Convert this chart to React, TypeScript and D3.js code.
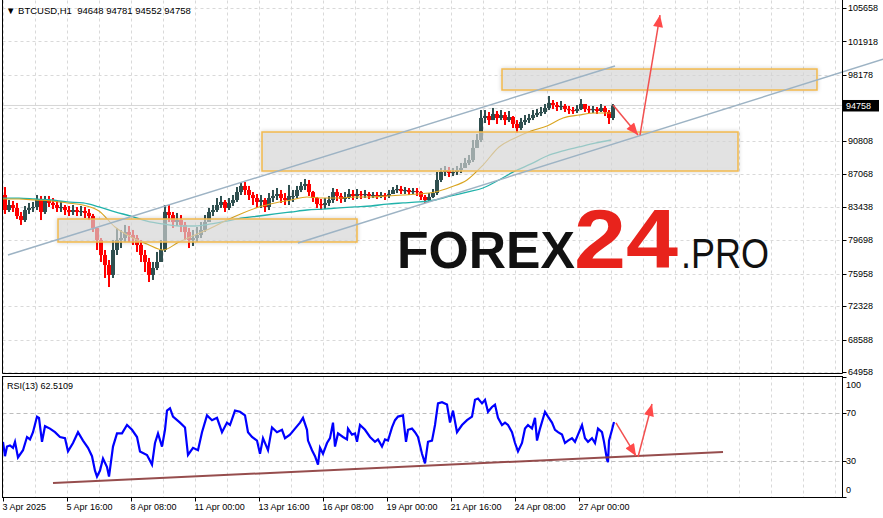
import React from "react";
import * as d3 from "d3";

const W = 883;
const H = 518;
const FONT = "'Liberation Sans', Arial, sans-serif";

// ---- Data (BTCUSD, aggregated into 4-hour bars, hours from 3 Apr 2025 00:00) ----
const BAR_HOURS = 4;
const firstOpen = 84750;
const barCloses = [
  83070, 83630, 83300, 82400, 81950, 83070, 83300, 83410, 84190, 82850,
  84190, 83860, 83630, 83300, 83410, 83070, 82850, 83070, 82850, 82960,
  82740, 82400, 81060, 79720, 78040, 76920, 75810, 78600, 79720, 79940,
  80610, 80280, 79940, 79160, 78040, 77260, 75810, 76590, 77260, 78600,
  82850, 82510, 81730, 81950, 81400, 80610, 79720, 79940, 80280, 80840,
  81730, 82850, 83070, 83630, 83970, 83300, 83860, 84190, 85080, 85760,
  85310, 84750, 84410, 83970, 84190, 83410, 84410, 84640, 84860, 84410,
  84190, 84640, 84640, 85310, 85760, 85980, 85080, 84410, 83740, 83630,
  83860, 84190, 85080, 84640, 84300, 84530, 84860, 84640, 84860, 84750,
  84860, 84640, 84750, 84640, 84750, 84640, 84860, 85310, 85420, 85200,
  85310, 85080, 85200, 85080, 84530, 84190, 84530, 84970, 86430, 87320,
  87540, 87210, 87320, 87540, 87770, 88330, 88660, 90010, 90900, 93360,
  93580, 93130, 93810, 93360, 93690, 93130, 93470, 92690, 92240, 92910,
  93130, 93360, 93690, 93920, 94030, 94480, 95040, 94810, 94590, 94700,
  94360, 94250, 94140, 94360, 94920, 94360, 94250, 94360, 94140, 94480,
  94030, 93360, 94758,
];
const barHighs = [
  85640, 84190, 84080, 83860, 82850, 83520, 83860, 83970, 84750, 84640,
  84640, 84640, 84410, 84190, 83970, 83630, 83520, 83630, 83410, 83520,
  83410, 83180, 82630, 81060, 79940, 78600, 77480, 79720, 81060, 80840,
  81400, 81280, 80840, 80280, 79720, 78600, 77710, 77260, 78380, 79720,
  83630, 83630, 82850, 82740, 82510, 81730, 81060, 80840, 81170, 81730,
  82510, 83300, 83630, 84410, 84640, 84190, 84410, 84750, 85640, 86200,
  86200, 85760, 85080, 84860, 84750, 84410, 84970, 85310, 85530, 85310,
  84970, 85870, 85310, 85760, 86200, 86540, 86430, 85200, 84530, 84300,
  84410, 84640, 85530, 85420, 84970, 85080, 85420, 85310, 85420, 85200,
  85310, 85080, 85080, 85080, 85080, 84970, 85310, 85640, 85870, 85760,
  85640, 85530, 85530, 85530, 85200, 84750, 84970, 85420, 87320, 87770,
  87990, 87880, 87770, 87990, 88330, 88890, 89220, 90900, 91570, 94250,
  94250, 94030, 94480, 94140, 94250, 94030, 94140, 93580, 93130, 93360,
  93690, 93810, 94250, 94360, 94590, 94920, 95820, 95370, 95150, 95260,
  94920, 94700, 94590, 94810, 95480, 94920, 94700, 94700, 94590, 94920,
  94700, 94250, 94920,
];
const barLows = [
  82630, 82850, 82850, 82070, 81400, 81730, 82630, 82850, 83070, 81950,
  82630, 83410, 83180, 82850, 82850, 82510, 82400, 82510, 82400, 82400,
  82180, 81950, 80610, 78600, 77260, 75470, 74460, 75470, 78040, 78820,
  79490, 79490, 79160, 78380, 77260, 76140, 75020, 75250, 76360, 77260,
  78380, 81730, 81060, 81280, 80610, 79720, 78820, 79050, 79490, 79940,
  80610, 81730, 82400, 82850, 83300, 82850, 83070, 83520, 83970, 84750,
  84750, 84190, 83630, 83300, 83300, 82850, 83070, 83970, 84190, 83860,
  83630, 83630, 83970, 84410, 85080, 85310, 84640, 83970, 83300, 83070,
  83180, 83520, 83860, 84080, 83860, 83970, 84300, 84190, 84300, 84300,
  84410, 84300, 84410, 84300, 84410, 84190, 84410, 84860, 84970, 84860,
  84860, 84750, 84860, 84640, 84190, 83860, 83970, 84410, 84750, 86200,
  86870, 86760, 86870, 86990, 87210, 87770, 88100, 88440, 90010, 90670,
  92800, 92580, 93130, 92690, 93130, 92580, 92910, 92240, 91680, 92020,
  92580, 92800, 93130, 93470, 93580, 93810, 94250, 94360, 94140, 94250,
  94030, 93810, 93810, 93920, 94250, 94030, 93920, 93920, 93810, 94030,
  93580, 92690, 93130,
];

// Moving averages sampled every 16 hours
const MA_STEP = 16;
const maFast = [
  84300, 84300, 84190, 84080, 83860, 83630, 82960, 81170, 80050, 79270,
  78600, 79490, 80280, 81060, 81950, 82740, 83410, 83860, 84190, 84530,
  84410, 84410, 84530, 84530, 84640, 84750, 84860, 85080, 85640, 86430,
  88100, 90120, 91120, 91900, 92460, 93360, 93690, 93920, 93920,
];
const maSlow = [
  84410, 84410, 84300, 84190, 83970, 83860, 83410, 82850, 82400, 81840,
  81510, 81280, 81280, 81510, 81840, 82180, 82400, 82630, 82850, 83070,
  83180, 83300, 83410, 83520, 83740, 83860, 83970, 84190, 84640, 85080,
  85530, 86430, 87430, 88220, 89110, 89670, 90120, 90560, 90900,
];

// RSI(13): [hour, value]
const rsiPoints: [number, number][] = [
  [0, 46], [2, 34], [4, 42], [7, 43], [10, 41], [12, 46], [15, 33], [20, 39], [24, 50], [27, 48],
  [30, 54], [34, 67], [36, 66], [39, 46], [42, 59], [47, 57], [52, 54], [57, 50], [62, 49], [65, 38],
  [70, 45], [75, 54], [80, 47], [85, 41], [89, 34], [92, 22], [94, 17], [97, 22], [100, 32], [104, 25],
  [106, 17], [110, 42], [114, 53], [119, 53], [124, 60], [129, 56], [134, 50], [137, 38], [144, 35], [149, 27],
  [152, 45], [155, 53], [159, 42], [162, 56], [164, 72], [167, 74], [170, 67], [177, 62], [182, 58], [185, 35],
  [190, 41], [195, 39], [199, 54], [204, 68], [209, 64], [214, 66], [219, 54], [224, 62], [227, 60], [232, 72],
  [237, 71], [242, 68], [245, 54], [249, 50], [254, 47], [257, 36], [260, 49], [265, 39], [269, 58], [274, 54],
  [279, 56], [282, 49], [287, 52], [292, 57], [297, 62], [300, 66], [304, 56], [305, 47], [309, 39], [312, 34],
  [315, 27], [317, 41], [320, 36], [324, 45], [327, 49], [330, 62], [332, 42], [335, 53], [340, 50], [344, 48],
  [345, 57], [349, 52], [352, 53], [354, 46], [357, 60], [362, 56], [367, 50], [372, 46], [375, 48], [379, 42],
  [382, 48], [385, 47], [389, 58], [392, 64], [395, 67], [400, 68], [403, 46], [405, 56], [409, 57], [412, 54],
  [415, 50], [419, 36], [422, 28], [425, 46], [429, 47], [432, 60], [435, 78], [439, 79], [444, 77], [447, 62],
  [450, 72], [454, 54], [459, 60], [464, 64], [469, 67], [472, 81], [475, 82], [479, 78], [482, 81], [485, 71],
  [489, 75], [492, 77], [495, 66], [499, 60], [502, 62], [505, 60], [509, 54], [512, 45], [515, 38], [519, 45],
  [522, 57], [525, 60], [529, 57], [532, 66], [534, 47], [537, 57], [542, 71], [545, 67], [549, 62], [552, 56],
  [555, 54], [559, 52], [562, 45], [565, 47], [569, 49], [572, 46], [575, 52], [579, 60], [582, 49], [585, 46],
  [589, 49], [592, 45], [595, 57], [599, 54], [601, 46], [604, 31], [605, 29], [606, 47], [609, 56], [611, 62.51],
];

const priceTicks = [105658, 101918, 98178, 94438, 90808, 87068, 83438, 79698, 75958, 72328, 68588, 64958];
const rsiTicks = [100, 70, 30, 0];
const timeTickHours = [0, 64, 128, 192, 256, 320, 384, 448, 512, 576];
const timeTickLabels = [
  "3 Apr 2025", "5 Apr 16:00", "8 Apr 08:00", "11 Apr 00:00", "13 Apr 16:00",
  "16 Apr 08:00", "19 Apr 00:00", "21 Apr 16:00", "24 Apr 08:00", "27 Apr 00:00",
];

const lastPrice = 94758;
const titleText = "\u25BC BTCUSD,H1  94648 94781 94552 94758";
const rsiText = "RSI(13) 62.5109";

// Analysis objects: [hour, price]
const upperChannel: [number, number][] = [[5, 78040], [612, 99170]];
const lowerChannel: [number, number][] = [[295, 79380], [880, 99920]];
const zoneHours: [number, number][] = [[55, 354], [259, 735], [499, 814]];
const zonePrices: [number, number][] = [[82066, 79494], [91792, 87432], [98836, 96488]];
const mainArrows: [number, number][][] = [
  [[610, 94811], [635, 91457]],
  [[637, 91457], [657, 104873]],
];
const rsiArrows: [number, number][][] = [
  [[613, 61.7], [633, 34.2]],
  [[635, 33.3], [649, 77.5]],
];
const rsiTrend: [number, number][] = [[50, 11.7], [720, 37.5]];

export default function App() {
  const x = d3.scaleLinear().domain([0, 840]).range([3, 843]);
  const yP = d3.scaleLinear().domain([64958, 105658]).range([372, 8]);
  const yR = d3.scaleLinear().domain([0, 100]).range([497, 377]);

  const plotL = 2.5;
  const plotR = 842.5;
  const mainTop = 0.5;
  const mainBot = 373.5;
  const rsiTop = 376.5;
  const rsiBot = 497.5;

  const bars = barCloses.map((c, i) => {
    const o = i === 0 ? firstOpen : barCloses[i - 1];
    const h = Math.max(barHighs[i], o, c);
    const l = Math.min(barLows[i], o, c);
    return { i, o, h, l, c };
  });

  const maLine = d3
    .line<number>()
    .x((_, j) => x(j * MA_STEP))
    .y((v) => yP(v))
    .curve(d3.curveMonotoneX);

  const rsiLine = d3
    .line<[number, number]>()
    .x((d) => x(d[0]))
    .y((d) => yR(d[1]));

  const pLine = d3
    .line<[number, number]>()
    .x((d) => x(d[0]))
    .y((d) => yP(d[1]));

  const gridXs = d3.range(0, 840, 32).map((h) => x(h));
  const bidY = yP(lastPrice);

  const bull = "#2F4F4F";
  const bear = "#FF0000";

  return (
    <div style={{ position: "absolute", left: 0, top: 0, width: W, height: H, background: "#fff" }}>
      <svg width={W} height={H} style={{ display: "block" }} fontFamily={FONT}>
        <defs>
          <clipPath id="mainClip">
            <rect x={plotL} y={mainTop} width={plotR - plotL} height={mainBot - mainTop} />
          </clipPath>
          <clipPath id="rsiClip">
            <rect x={plotL} y={rsiTop} width={plotR - plotL} height={rsiBot - rsiTop} />
          </clipPath>
          <marker id="ah" viewBox="0 0 12 10" refX="12" refY="5" markerUnits="userSpaceOnUse"
            markerWidth="13" markerHeight="10" orient="auto">
            <path d="M0,0 L12,5 L0,10 z" fill="#FF4A4A" />
          </marker>
          <filter id="sh" x="-5%" y="-30%" width="110%" height="160%">
            <feDropShadow dx="0" dy="0" stdDeviation="2" floodColor="#000" floodOpacity="0.22" />
          </filter>
        </defs>

        <rect x={0} y={0} width={W} height={H} fill="#fff" />

        {/* grid: main */}
        <g stroke="#D9D9D9" strokeDasharray="3,3" strokeWidth={1}>
          {priceTicks.map((p) => (
            <line key={"hp" + p} x1={plotL} x2={plotR} y1={Math.round(yP(p)) + 0.5} y2={Math.round(yP(p)) + 0.5} />
          ))}
          {gridXs.map((gx, i) => (
            <line key={"vm" + i} x1={Math.round(gx) + 0.5} x2={Math.round(gx) + 0.5} y1={mainTop} y2={mainBot} />
          ))}
          {gridXs.map((gx, i) => (
            <line key={"vr" + i} x1={Math.round(gx) + 0.5} x2={Math.round(gx) + 0.5} y1={rsiTop} y2={rsiBot} />
          ))}
        </g>
        <g stroke="#BDBDBD" strokeDasharray="4,3" strokeWidth={1}>
          {[70, 30].map((v) => (
            <line key={"hr" + v} x1={plotL} x2={plotR} y1={Math.round(yR(v)) + 0.5} y2={Math.round(yR(v)) + 0.5} />
          ))}
        </g>

        {/* bid line */}
        <line x1={plotL} x2={plotR} y1={bidY} y2={bidY} stroke="#D6D6D6" strokeWidth={1} />

        <g clipPath="url(#mainClip)">
          {/* candles */}
          {bars.map((b) => {
            const x0 = x(b.i * BAR_HOURS);
            const col = b.c >= b.o ? bull : bear;
            const top = yP(Math.max(b.o, b.c));
            const bot = yP(Math.min(b.o, b.c));
            return (
              <g key={"b" + b.i} fill={col}>
                <rect x={x0 + 1} y={yP(b.h)} width={2} height={Math.max(1, yP(b.l) - yP(b.h))} />
                <rect x={x0} y={top} width={4} height={Math.max(1.2, bot - top)} />
              </g>
            );
          })}

          {/* moving averages */}
          <path d={maLine(maSlow) || ""} fill="none" stroke="#20B2AA" strokeWidth={1.3} />
          <path d={maLine(maFast) || ""} fill="none" stroke="#DAA520" strokeWidth={1.1} />

          {/* zones */}
          {zoneHours.map((hz, i) => {
            const x0 = x(hz[0]);
            const x1 = x(hz[1]);
            const y0 = yP(zonePrices[i][0]);
            const y1 = yP(zonePrices[i][1]);
            return (
              <g key={"z" + i}>
                <rect x={x0} y={y0} width={x1 - x0} height={y1 - y0} fill="#DCDCDC" fillOpacity={0.62}
                  stroke="#F2B94E" strokeWidth={1.5} filter="url(#sh)" />
              </g>
            );
          })}

          {/* upper channel */}
          <path d={pLine(upperChannel) || ""} stroke="#9DB3C4" strokeWidth={1.5} fill="none" />
        </g>

        {/* lower channel extends beyond the axis */}
        <path d={pLine(lowerChannel) || ""} stroke="#9DB3C4" strokeWidth={1.5} fill="none" />

        {/* main arrows */}
        {mainArrows.map((a, i) => (
          <line key={"ma" + i} x1={x(a[0][0])} y1={yP(a[0][1])} x2={x(a[1][0])} y2={yP(a[1][1])}
            stroke="#F25050" strokeWidth={1.5} markerEnd="url(#ah)" />
        ))}

        {/* RSI */}
        <g clipPath="url(#rsiClip)">
          <path d={rsiLine(rsiPoints) || ""} fill="none" stroke="#0000FF" strokeWidth={2.2} strokeLinejoin="miter" />
        </g>
        <line x1={x(rsiTrend[0][0])} y1={yR(rsiTrend[0][1])} x2={x(rsiTrend[1][0])} y2={yR(rsiTrend[1][1])}
          stroke="#8B3A3A" strokeWidth={2} opacity={0.9} />
        {rsiArrows.map((a, i) => (
          <line key={"ra" + i} x1={x(a[0][0])} y1={yR(a[0][1])} x2={x(a[1][0])} y2={yR(a[1][1])}
            stroke="#F25050" strokeWidth={1.5} markerEnd="url(#ah)" />
        ))}

        {/* watermark */}
        <text x={397} y={268} fontSize={52} fontWeight="bold" fill="#111" textLength={178} lengthAdjust="spacingAndGlyphs">FOREX</text>
        <text x={574} y={268} fontSize={84} fontWeight="bold" fill="#E8231C" textLength={104} lengthAdjust="spacingAndGlyphs">24</text>
        <text x={681} y={268} fontSize={43} fill="#111" textLength={88} lengthAdjust="spacingAndGlyphs">.PRO</text>

        {/* panel borders */}
        <g fill="none" stroke="#000" strokeWidth={1}>
          <line x1={plotL} x2={plotL} y1={0} y2={mainBot} />
          <line x1={plotR} x2={plotR} y1={0} y2={mainBot} />
          <line x1={plotL} x2={plotR} y1={mainBot} y2={mainBot} />
          <rect x={plotL} y={rsiTop} width={plotR - plotL} height={rsiBot - rsiTop} />
        </g>

        {/* price axis */}
        {priceTicks.map((p) => (
          <g key={"pt" + p}>
            <line x1={plotR} x2={plotR + 4} y1={Math.round(yP(p)) + 0.5} y2={Math.round(yP(p)) + 0.5} stroke="#000" />
            {Math.abs(yP(p) - bidY) > 9 ? (
              <text x={848} y={yP(p)} dy="0.35em" fontSize={9} fill="#000">{p}</text>
            ) : null}
          </g>
        ))}
        <rect x={843} y={bidY - 5.5} width={36} height={11.5} fill="#000" />
        <text x={846} y={bidY} dy="0.36em" fontSize={9} fill="#fff">{lastPrice}</text>

        {/* rsi axis */}
        {rsiTicks.map((v) => (
          <g key={"rt" + v}>
            <line x1={plotR} x2={plotR + 4} y1={Math.round(yR(v)) + 0.5} y2={Math.round(yR(v)) + 0.5} stroke="#000" />
            <text x={846} y={Math.min(490, Math.max(385, yR(v)))} dy="0.35em" fontSize={9} fill="#000">{v}</text>
          </g>
        ))}

        {/* time axis */}
        {timeTickHours.map((h, i) => (
          <g key={"tt" + h}>
            <line x1={Math.round(x(h)) + 0.5} x2={Math.round(x(h)) + 0.5} y1={rsiBot} y2={rsiBot + 4} stroke="#000" />
            <text x={x(h) - 0.5} y={509.5} fontSize={9} fill="#000">{timeTickLabels[i]}</text>
          </g>
        ))}

        {/* titles */}
        <text x={6} y={14} fontSize={9.5} fill="#000" style={{ whiteSpace: "pre" }}>{titleText}</text>
        <text x={7} y={388.5} fontSize={9} fill="#000">{rsiText}</text>
      </svg>
    </div>
  );
}
